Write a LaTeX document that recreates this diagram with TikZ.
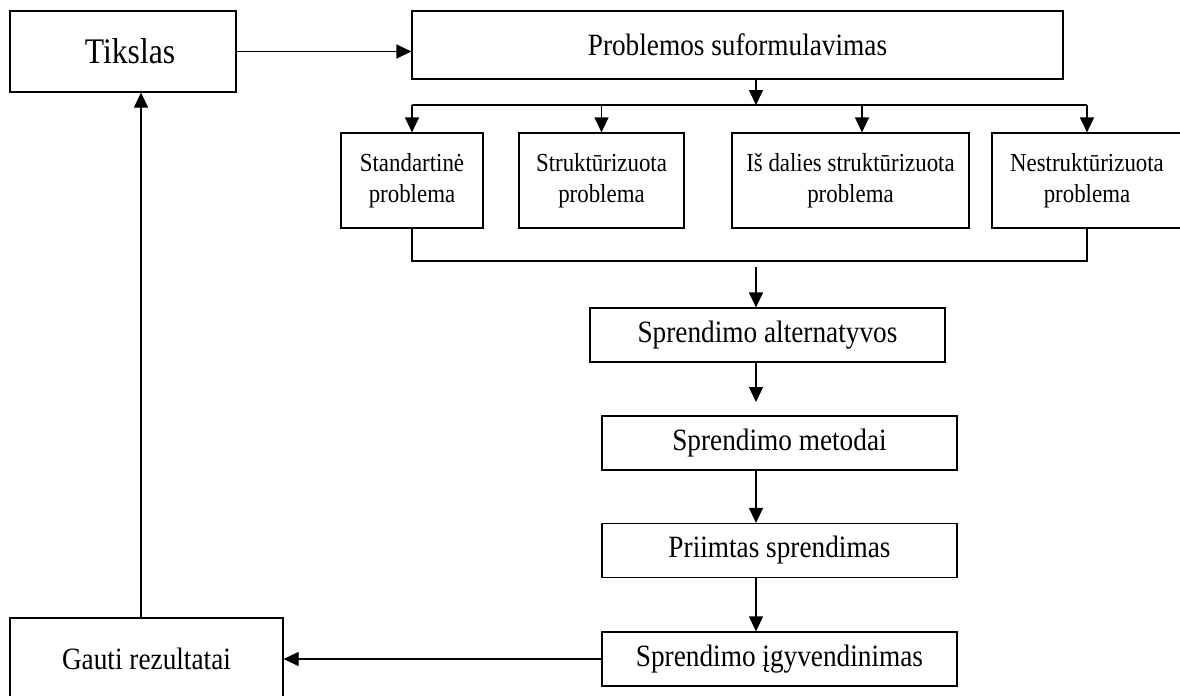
\documentclass[tikz,border=0pt]{standalone}
\usepackage{fontspec}
\setmainfont{Liberation Serif}[FakeStretch=0.88]
\usetikzlibrary{arrows.meta,positioning}

\begin{document}
\begin{tikzpicture}[x=0.5pt,y=-0.5pt,
  blokas/.style={draw, line width=0.6pt, inner sep=1pt, align=center,
    font=\fontsize{15.5}{18}\selectfont},
  ilgas/.style={blokas, minimum width=177.5pt, minimum height=27pt},
  mazas/.style={blokas, font=\fontsize{13}{15.5}\selectfont,
    minimum width=#1, minimum height=47.5pt},
  rodykle/.style={line width=0.6pt, -{Triangle[length=7.5pt,width=7pt]}},
  linija/.style={line width=0.6pt}]

  \useasboundingbox (0,0) rectangle (1180,696);

  % Virsutine eile
  \node[blokas, minimum width=113pt, minimum height=40.5pt,
    font=\fontsize{18}{21}\selectfont] (tikslas) at (123,51.5)
    {\hspace*{7pt}Tikslas};
  \node[blokas, minimum width=325.5pt, minimum height=34pt] (formul) at (737.5,45)
    {Problemos suformulavimas};

  % Problemu tipai
  \node[mazas=71pt] (stand) at (412,180.5) {Standartinė\\problema};
  \node[mazas=82.5pt] (strukt) at (601.5,180.5) {Struktūrizuota\\problema};
  \node[mazas=118.5pt] (isdal) at (850.5,180.5) {Iš dalies struktūrizuota\\problema};
  \node[mazas=95pt] (nestr) at (1087,180.5) {Nestruktūrizuota\\problema};

  % Sprendimo eiga
  \node[ilgas] (altern) at (767.5,335) {Sprendimo alternatyvos};
  \node[ilgas] (metod) at (779.5,443) {Sprendimo metodai};
  \node[ilgas] (priim) at (779.5,550.5) {Priimtas sprendimas};
  \node[ilgas] (igyv) at (779.5,659) {Sprendimo įgyvendinimas};
  \node[blokas, minimum width=136.5pt, minimum height=41pt] (gauti) at (146.5,659)
    {Gauti rezultatai};

  % Pagalbiniai taskai
  \coordinate (sakos) at (756,105);
  \coordinate (is1) at (862,105);
  \coordinate (apacia) at (756,261);
  \coordinate (alt1) at (756,267);
  \coordinate (met1) at (756,402);
  \coordinate (grizt) at (141,0);

  % Rodykles
  \draw[rodykle] (tikslas.east) -- (tikslas.east -| formul.west);
  \draw[rodykle] (formul.south -| sakos) -- (sakos);
  \draw[linija] (stand.north |- sakos) -- (nestr.north |- sakos);
  \foreach \b in {stand,strukt,nestr}
    \draw[rodykle] (\b.north |- sakos) -- (\b.north);
  \draw[rodykle] (is1) -- (is1 |- isdal.north);
  \draw[linija] (stand.south) |- (apacia) -| (nestr.south);
  \draw[rodykle] (alt1) -- (alt1 |- altern.north);
  \draw[rodykle] (altern.south -| met1) -- (met1);
  \draw[rodykle] (metod.south -| met1) -- (priim.north -| met1);
  \draw[rodykle] (priim.south -| met1) -- (igyv.north -| met1);
  \draw[rodykle] (igyv.west) -- (gauti.east);
  \draw[rodykle] (gauti.north -| grizt) -- (tikslas.south -| grizt);
\end{tikzpicture}
\end{document}
